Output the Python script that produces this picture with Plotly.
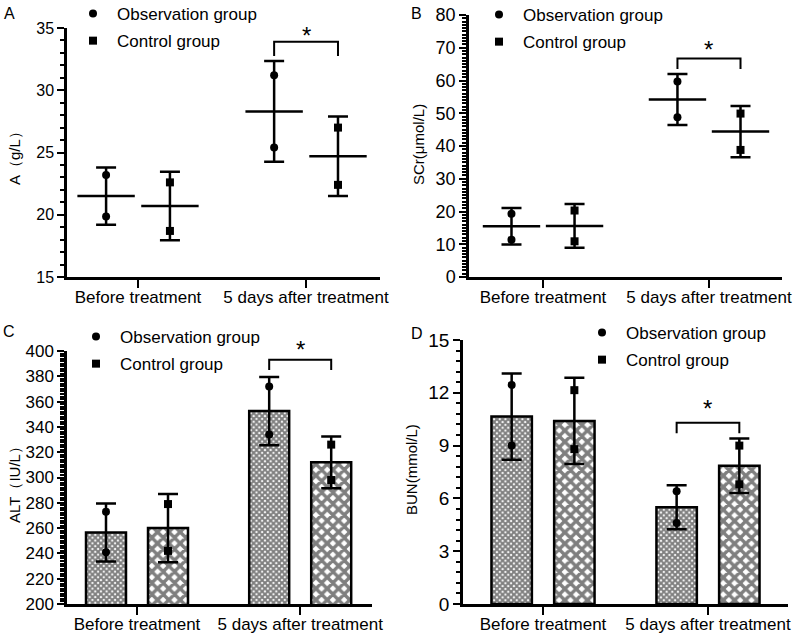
import plotly.graph_objects as go

categories = ["Before treatment", "5 days after treatment"]

# Panel A: A (g/L)
A_obs_mean = [21.5, 28.3]
A_obs_sd = [2.3, 4.05]
A_obs_pts = [[23.2, 19.85], [31.2, 25.4]]
A_ctl_mean = [20.7, 24.7]
A_ctl_sd = [2.75, 3.2]
A_ctl_pts = [[22.6, 18.7], [27.0, 22.4]]

# Panel B: SCr (umol/L)
B_obs_mean = [15.5, 54.2]
B_obs_sd = [5.6, 7.8]
B_obs_pts = [[19.3, 11.4], [59.7, 48.8]]
B_ctl_mean = [15.6, 44.4]
B_ctl_sd = [6.7, 7.8]
B_ctl_pts = [[20.3, 10.9], [49.9, 38.8]]

# Panel C: ALT (IU/L)
C_obs_mean = [256.5, 352.5]
C_obs_sd = [23.0, 27.0]
C_obs_pts = [[273, 241], [372, 334]]
C_ctl_mean = [260, 312]
C_ctl_sd = [27.0, 20.5]
C_ctl_pts = [[279, 242], [326, 298]]

# Panel D: BUN (mmol/L)
D_obs_mean = [10.65, 5.5]
D_obs_sd = [2.45, 1.25]
D_obs_pts = [[12.45, 9.0], [6.4, 4.6]]
D_ctl_mean = [10.4, 7.85]
D_ctl_sd = [2.45, 1.55]
D_ctl_pts = [[12.15, 8.8], [9.0, 6.8]]

FONT = "Liberation Sans, Arial, sans-serif"
OFF = 0.19
W, H = 800, 636

fig = go.Figure()

def px_x(p):
    return p / W

def px_y(p):
    return 1 - p / H

panels = [
    dict(key="", obs=(A_obs_mean, A_obs_sd, A_obs_pts), ctl=(A_ctl_mean, A_ctl_sd, A_ctl_pts),
         kind="scatter", legend="legend"),
    dict(key="2", obs=(B_obs_mean, B_obs_sd, B_obs_pts), ctl=(B_ctl_mean, B_ctl_sd, B_ctl_pts),
         kind="scatter", legend="legend2"),
    dict(key="3", obs=(C_obs_mean, C_obs_sd, C_obs_pts), ctl=(C_ctl_mean, C_ctl_sd, C_ctl_pts),
         kind="bar", legend="legend3"),
    dict(key="4", obs=(D_obs_mean, D_obs_sd, D_obs_pts), ctl=(D_ctl_mean, D_ctl_sd, D_ctl_pts),
         kind="bar", legend="legend4"),
]

for p in panels:
    xa = "x" + p["key"]
    ya = "y" + p["key"]
    for grp, off, sym, pat, name in [
        ("obs", -OFF, "circle", dict(shape="x", size=4, solidity=0.75, fgcolor="black", bgcolor="white"), "Observation group"),
        ("ctl", OFF, "square", dict(shape="x", size=8, solidity=0.68, fgcolor="black", bgcolor="white"), "Control group"),
    ]:
        mean, sd, pts = p[grp]
        xs = [i + off for i in range(len(categories))]
        err = dict(type="data", array=sd, visible=True, color="black", thickness=2.5, width=10)
        if p["kind"] == "bar":
            fig.add_trace(go.Bar(
                x=xs, y=mean, width=0.245, xaxis=xa, yaxis=ya, showlegend=False,
                marker=dict(color="white", pattern=pat, line=dict(color="black", width=2.5)),
                error_y=err, hoverinfo="skip"))
        else:
            fig.add_trace(go.Scatter(
                x=xs, y=mean, mode="markers", xaxis=xa, yaxis=ya, showlegend=False,
                marker=dict(symbol="line-ew", size=41, color="black", line=dict(color="black", width=2.5)),
                error_y=err, hoverinfo="skip"))
        px_ = [i + off for i, vals in enumerate(pts) for _ in vals]
        py_ = [v for vals in pts for v in vals]
        fig.add_trace(go.Scatter(
            x=px_, y=py_, mode="markers", xaxis=xa, yaxis=ya, name=name,
            legend=p["legend"], legendgroup=name, showlegend=True,
            marker=dict(symbol=sym, size=8, color="black")))

# significance brackets (top, drop, star height)
brackets = [("", 33.9, 32.75, 34.4), ("2", 66.7, 63.5, 69.5), ("3", 393, 385, 401), ("4", 10.3, 9.7, 11.1)]
yranges = [(15, 35), (0, 80), (200, 400), (0, 15)]
for k, (key, top, low, star) in enumerate(brackets):
    x0, x1 = 1 - OFF, 1 + OFF
    fig.add_trace(go.Scatter(x=[x0, x0, x1, x1], y=[low, top, top, low], mode="lines",
                             xaxis="x" + key, yaxis="y" + key, showlegend=False,
                             line=dict(color="black", width=2), hoverinfo="skip", cliponaxis=False))
    r0, r1 = yranges[k]
    fig.add_annotation(x=1, y=(star - r0) / (r1 - r0), xref="x" + key, yref="y" + key + " domain",
                       text="*", showarrow=False, xanchor="center", yanchor="middle",
                       font=dict(size=24, color="black", family=FONT))

axis_common = dict(showline=True, linecolor="black", linewidth=2.5, showgrid=False, zeroline=False,
                   ticks="outside", tickcolor="black", tickwidth=2, ticklen=7, automargin=False,
                   tickfont=dict(family=FONT, color="black"))

xdoms = [(67, 380), (469, 782), (67, 372), (463, 788)]
xranges = [(-0.4226, 1.44), (-0.446, 1.44), (-0.429, 1.44), (-0.485, 1.485)]
ydoms = [(277, 28), (277, 15), (604, 351), (604, 340)]
ydticks = [5, 10, 20, 3]
yminor_n = [20, 80, 100, 25]   # number of minor intervals across the range
yfont = [16, 18, 17, 19]

for i in range(4):
    key = "" if i == 0 else str(i + 1)
    r0, r1 = yranges[i]
    n = yminor_n[i]
    minor_vals = [r0 + (r1 - r0) * j / n for j in range(n + 1)]
    fig.update_layout(**{
        "xaxis" + key: dict(axis_common, domain=[px_x(xdoms[i][0]), px_x(xdoms[i][1])],
                            range=list(xranges[i]), tickvals=[0, 1], ticktext=categories,
                            tickfont=dict(family=FONT, color="black", size=17), ticklen=8,
                            ticklabelstandoff=-5, anchor="y" + key),
        "yaxis" + key: dict(axis_common, domain=[px_y(ydoms[i][0]), px_y(ydoms[i][1])],
                            range=[r0, r1], dtick=ydticks[i], tick0=r0,
                            tickfont=dict(family=FONT, color="black", size=yfont[i]),
                            minor=dict(tickmode="array", tickvals=minor_vals, ticks="outside",
                                       ticklen=4, tickwidth=1.5, tickcolor="black"),
                            anchor="x" + key),
    })

# axis titles and panel letters
titles = [("A（g/L）", 14, 155), ("SCr(μmol/L)", 418, 145), ("ALT（IU/L）", 14, 481), ("BUN(mmol/L)", 412, 470)]
for t, x, y in titles:
    fig.add_annotation(x=px_x(x), y=px_y(y), xref="paper", yref="paper", text=t, textangle=-90,
                       xanchor="center", yanchor="middle",
                       showarrow=False, font=dict(size=15, color="black", family=FONT))
letters = [("A", 9, 13), ("B", 416, 13), ("C", 9, 331), ("D", 417, 333)]
for t, x, y in letters:
    fig.add_annotation(x=px_x(x), y=px_y(y), xref="paper", yref="paper", text=t,
                       xanchor="center", yanchor="middle",
                       showarrow=False, font=dict(size=16, color="black", family=FONT))

leg_common = dict(xanchor="left", yanchor="top", bgcolor="rgba(0,0,0,0)", itemwidth=38,
                  tracegroupgap=2, font=dict(family=FONT, size=17, color="black"), itemsizing="trace")
legpos = [("legend", 69, -4), ("legend2", 475, -3), ("legend3", 72, 319), ("legend4", 578, 315)]
for name, x, y in legpos:
    fig.update_layout(**{name: dict(leg_common, x=px_x(x), y=px_y(y))})

fig.update_layout(width=W, height=H, margin=dict(l=0, r=0, t=0, b=0, autoexpand=False),
                  paper_bgcolor="white", plot_bgcolor="white", barmode="overlay")

fig.write_html("out.html", config={"displayModeBar": False},
               post_script="document.body.style.margin='0px';document.body.style.padding='0px';"
                           "document.body.style.overflow='hidden';")
